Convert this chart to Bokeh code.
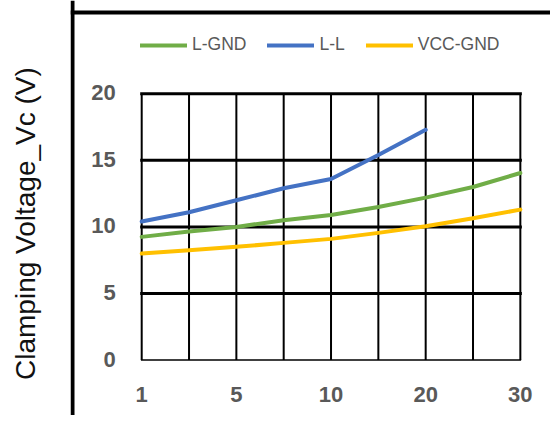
from bokeh.plotting import figure
from bokeh.models import Legend, LegendItem, FixedTicker, Range1d, Span
from bokeh.core.properties import value
from bokeh.embed import file_html
from bokeh.resources import INLINE

# ---- data ----
tick_labels = ["1", "5", "10", "20", "30"]          # labels shown on every other category
l_gnd = [9.25, 9.65, 10.0, 10.5, 10.9, 11.5, 12.2, 13.0, 14.05]
l_l = [10.4, 11.1, 12.0, 12.9, 13.6, 15.4, 17.3]
vcc_gnd = [8.0, 8.25, 8.5, 8.8, 9.1, 9.55, 10.05, 10.65, 11.3]
y_ticks = [0, 5, 10, 15, 20]
series_names = ["L-GND", "L-L", "VCC-GND"]
series_colors = ["#70AD47", "#4472C4", "#FFC000"]
y_title = "Clamping Voltage_Vc (V)"

n_cat = len(l_gnd)
cat_idx = list(range(n_cat))
lab_font = "Liberation Sans"

# ---- layout (pixels, canvas coordinates) ----
W, H = 550, 415
left_border = 70                   # chart-area box starts here
x0_px, x_step_px = 141.2, 47.33    # canvas x of first category, px per category
y0_px, y_unit_px = 359.5, 13.31    # canvas y of value 0, px per unit
top_line_px = 12                   # canvas y of the box's top edge
title_pad = "\u00a0" * 4           # nudges the rotated title down to its place

x_start = -(x0_px - left_border) / x_step_px
x_end = x_start + (W - left_border) / x_step_px
y_end = y0_px / y_unit_px
y_start = y_end - H / y_unit_px

p = figure(width=W, height=H,
           x_range=Range1d(x_start, x_end), y_range=Range1d(y_start, y_end),
           output_backend="svg", toolbar_location=None,
           x_axis_location=None,
           min_border_left=left_border, min_border_right=0,
           min_border_top=0, min_border_bottom=0)
p.background_fill_color = "white"
p.border_fill_color = "white"
p.outline_line_color = None
p.xgrid.visible = False
p.ygrid.visible = False

# y axis only carries the title (outside the chart-area box)
p.yaxis.ticker = FixedTicker(ticks=[])
p.yaxis.axis_line_color = None
p.yaxis.major_tick_line_color = None
p.yaxis.minor_tick_line_color = None
p.yaxis.major_label_standoff = 0
p.yaxis.axis_label = y_title + title_pad
p.yaxis.axis_label_text_font = lab_font
p.yaxis.axis_label_text_font_style = "normal"
p.yaxis.axis_label_text_font_size = "28px"
p.yaxis.axis_label_text_color = "#111111"
p.yaxis.axis_label_standoff = 30

# chart-area box (left & top edges visible)
p.add_layout(Span(location=x_start + 2 / x_step_px, dimension="height",
                  line_color="black", line_width=4))
p.add_layout(Span(location=y_end - top_line_px / y_unit_px, dimension="width",
                  line_color="black", line_width=4))

# plot-area grid
ymin, ymax = y_ticks[0], y_ticks[-1]
xmin, xmax = cat_idx[0], cat_idx[-1]
p.segment(x0=cat_idx, x1=cat_idx, y0=[ymin] * n_cat, y1=[ymax] * n_cat,
          line_color="black", line_width=2)
p.segment(x0=[xmin], x1=[xmax], y0=[ymin], y1=[ymin],
          line_color="black", line_width=1.5, line_cap="square")
hy = [v for v in y_ticks if v > ymin]
p.segment(x0=[xmin] * len(hy), x1=[xmax] * len(hy), y0=hy, y1=hy,
          line_color="black", line_width=3, line_cap="square")

# tick labels
p.text(x=[xmin] * len(y_ticks), y=y_ticks, text=[str(v) for v in y_ticks],
       x_offset=-26, y_offset=-1,
       text_align="right", text_baseline="middle",
       text_font=value(lab_font), text_font_style="bold",
       text_font_size="22px", text_color="#595959")
label_pos = cat_idx[::2]
p.text(x=label_pos, y=[ymin] * len(label_pos), text=tick_labels,
       y_offset=34, text_align="center", text_baseline="middle",
       text_font=value(lab_font), text_font_style="bold",
       text_font_size="22px", text_color="#595959")

# series
renderers = []
for name, ys, col in zip(series_names, [l_gnd, l_l, vcc_gnd], series_colors):
    r = p.line(cat_idx[:len(ys)], ys, line_color=col, line_width=4,
               line_join="round", line_cap="round")
    renderers.append(r)

legend = Legend(items=[LegendItem(label=n, renderers=[r]) for n, r in zip(series_names, renderers)],
                orientation="horizontal", location=(70, 360),
                padding=0, margin=0, spacing=21,
                glyph_width=47, glyph_height=20, label_standoff=5,
                label_text_font=lab_font, label_text_font_size="17.5px",
                label_text_color="#595959",
                border_line_color=None, background_fill_alpha=0)
p.add_layout(legend, "center")

open("out.html", "w").write(file_html(p, INLINE))
